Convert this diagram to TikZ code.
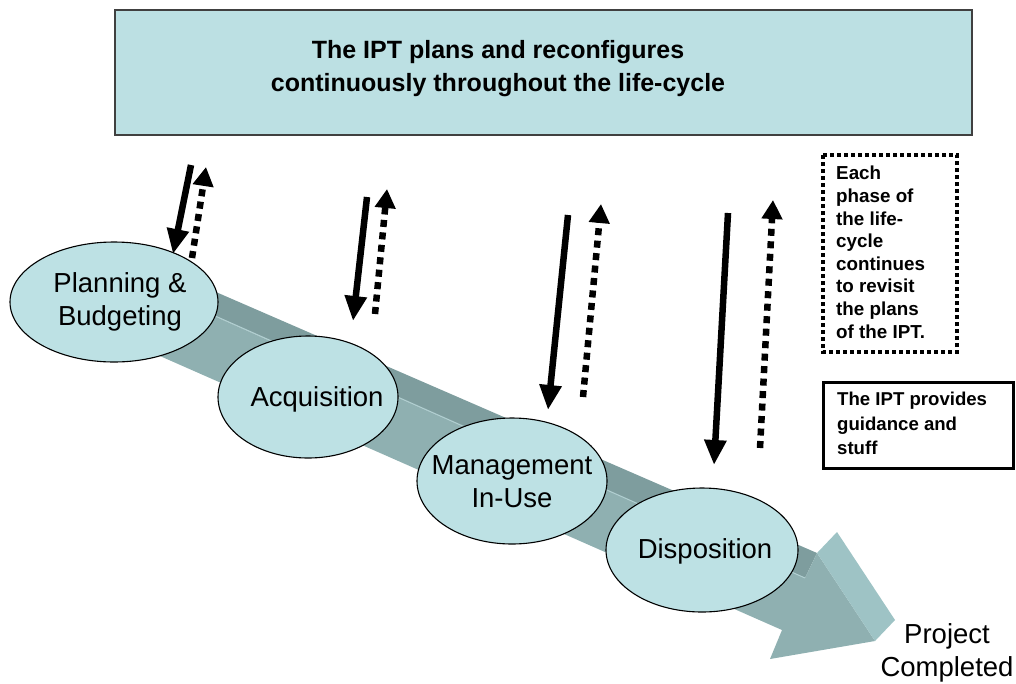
\documentclass[tikz,border=0pt]{standalone}
\usepackage{fontspec}
\setmainfont{Liberation Sans}
\usetikzlibrary{arrows.meta,shapes.geometric}
\definecolor{boxfill}{HTML}{BCE0E3}
\definecolor{ellfill}{HTML}{BDE1E4}
\definecolor{shafttop}{HTML}{7E9D9E}
\definecolor{shaftfront}{HTML}{8FB0B1}
\definecolor{headside}{HTML}{9EC3C5}
\tikzset{
  phase/.style={ellipse, draw=black, line width=1.1pt, fill=ellfill, inner sep=0pt},
  phasetext/.style={align=center, inner sep=0pt, font=\fontsize{27.5}{33}\selectfont},
  downarr/.style={line width=6.5pt, -{Triangle[width=21pt,length=25pt]}},
  uparr/.style={line width=6.5pt, dash pattern=on 7pt off 5.5pt, -{Triangle[width=20pt,length=19pt]}},
  note/.style={align=left, anchor=north west, font=\bfseries\fontsize{18.8}{22.6}\selectfont, inner sep=0pt}
}
\begin{document}
\begin{tikzpicture}[x=1pt,y=-1pt]
\useasboundingbox (0,0) rectangle (1016,683);
% 3D arrow
\fill[shafttop] (110,246) -- (817,553) -- (805,578) -- (110,270) -- cycle;
\fill[shaftfront] (110,270) -- (805,578) -- (817,553) -- (875,641) -- (770,659) -- (782,630) -- (110,334) -- cycle;
\draw[headside!80!white, line width=1pt] (150,287) -- (805,578);
\fill[headside] (817,553) -- (837,532) -- (895,620) -- (875,641) -- cycle;
% top box
\node[draw=black!75, line width=1.2pt, fill=boxfill, minimum width=857pt, minimum height=125pt, inner sep=0pt] (top) at (543.5,72.5) {};
\node[align=center, inner sep=0pt, font=\bfseries\fontsize{25}{33}\selectfont] (toptext) at (498,69)
  {The IPT plans and reconfigures\\continuously throughout the life-cycle};
% phases
\node[phase, minimum width=208pt, minimum height=120pt] (plan) at (114,302) {};
\node[phasetext] (plant) at (120,302) {Planning \&\\Budgeting};
\node[phase, minimum width=180pt, minimum height=122pt] (acq) at (308,397) {};
\node[phasetext] (acqt) at (317,399) {Acquisition};
\node[phase, minimum width=190pt, minimum height=126pt] (mgmt) at (512,481) {};
\node[phasetext] (mgmtt) at (512,482) {Management\\In-Use};
\node[phase, minimum width=192pt, minimum height=124pt] (disp) at (702,550) {};
\node[phasetext] (dispt) at (705,551) {Disposition};
% project completed
\node[phasetext] (done) at (947,653) {Project\\Completed};
% arrows
\coordinate (s1a) at (191,165); \coordinate (s1b) at (173,254);
\coordinate (d1a) at (192,258); \coordinate (d1b) at (206,167);
\coordinate (s2a) at (367,197); \coordinate (s2b) at (353,321);
\coordinate (d2a) at (375,314); \coordinate (d2b) at (387,189);
\coordinate (s3a) at (568,215); \coordinate (s3b) at (548,410);
\coordinate (d3a) at (583,397); \coordinate (d3b) at (601,204);
\coordinate (s4a) at (728,213); \coordinate (s4b) at (714,465);
\coordinate (d4a) at (760,448); \coordinate (d4b) at (773,200);
\draw[downarr] (s1a) -- (s1b);
\draw[uparr] (d1a) -- (d1b);
\draw[downarr] (s2a) -- (s2b);
\draw[uparr] (d2a) -- (d2b);
\draw[downarr] (s3a) -- (s3b);
\draw[uparr] (d3a) -- (d3b);
\draw[downarr] (s4a) -- (s4b);
\draw[uparr] (d4a) -- (d4b);
% notes
\draw[line width=4pt, dash pattern=on 4pt off 3pt] (823,155) rectangle (957,352);
\node[note] (n1) at (836,166) {Each\\phase of\\the life-\\cycle\\continues\\to revisit\\the plans\\of the IPT.};
\draw[line width=3pt] (823,382) rectangle (1013,468);
\node[note, font=\bfseries\fontsize{18.6}{24.5}\selectfont] (n2) at (837,392) {The IPT provides\\guidance and\\stuff};
\end{tikzpicture}
\end{document}
